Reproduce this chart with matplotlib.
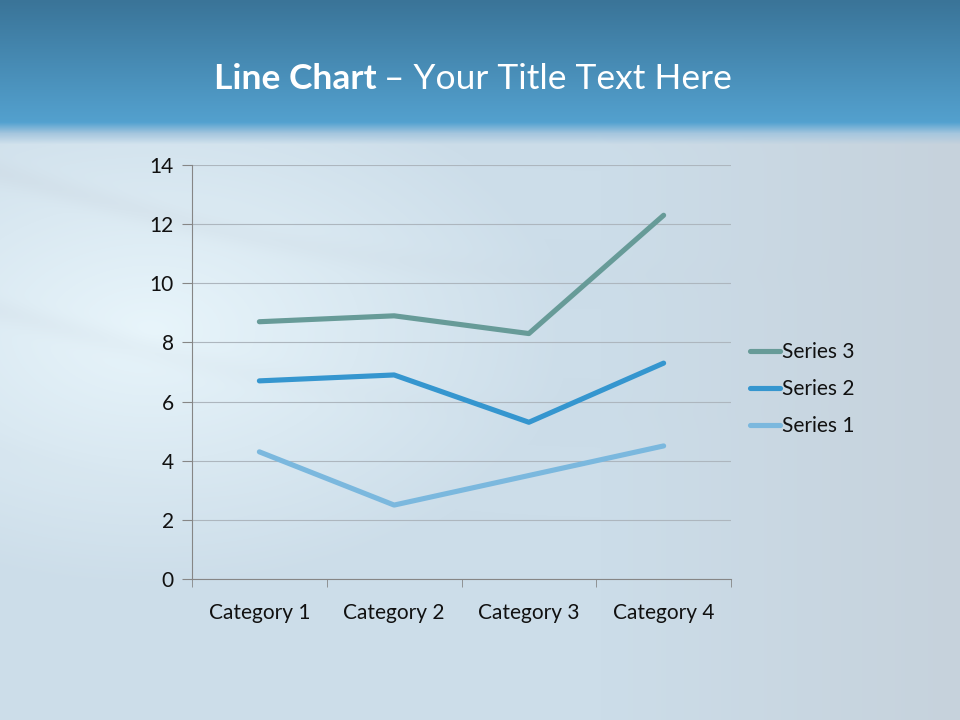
import numpy as np
import matplotlib.pyplot as plt

# data (stacked line chart)
categories = ["Category 1", "Category 2", "Category 3", "Category 4"]
series_names = ["Series 1", "Series 2", "Series 3"]
series1 = [4.3, 2.5, 3.5, 4.5]
series2 = [2.4, 4.4, 1.8, 2.8]
series3 = [2.0, 2.0, 3.0, 5.0]
colors = ["#7bb8de", "#3596cf", "#679b98"]

plt.rcParams['font.family'] = ['Lato', 'DejaVu Sans']

fig = plt.figure(figsize=(9.6, 7.2), dpi=100)

# background: slide-like gradient
H, W = 720, 960
yy, xx = np.mgrid[0:H, 0:W].astype(float)
top0 = np.array([58, 116, 152]) / 255
top1 = np.array([84, 162, 208]) / 255
t = np.clip(yy / 125.0, 0, 1)[..., None]
band = top0 * (1 - t) + top1 * t
low_base = np.array([204, 221, 233]) / 255
light = np.array([232, 245, 251]) / 255
grey = np.array([198, 210, 220]) / 255
# light glow on left-middle, grey towards right
d = np.sqrt(((xx - 150) / 420) ** 2 + ((yy - 330) / 260) ** 2)
g = np.clip(1 - d, 0, 1)[..., None]
r = np.clip((xx - 600) / 360, 0, 1)[..., None]
low = low_base * (1 - r) + grey * r
low = low * (1 - g) + light * g
# soft wavy streaks
wave = np.sin((yy - 40 * np.sin(xx / 260.0) - 0.12 * xx) / 22.0)
streak = (np.clip(wave, 0, 1) ** 6) * np.clip(1 - xx / 900, 0, 1) * np.clip((520 - yy) / 300, 0, 1)
low = low * (1 - 0.25 * streak[..., None]) + 0.25 * streak[..., None] * np.array([0.78, 0.82, 0.86])
s = np.clip((yy - 122) / 22.0, 0, 1)[..., None]
mid = np.array([165, 198, 222]) / 255
trans = np.where(s < 0.5, top1 * (1 - 2 * s) + mid * 2 * s, mid * (2 - 2 * s) + low * (2 * s - 1))
img = np.where(yy[..., None] < 122, band, trans)
bg = fig.add_axes([0, 0, 1, 1], zorder=-10)
bg.imshow(np.clip(img, 0, 1), aspect='auto', extent=(0, 1, 0, 1))
bg.axis('off')

# title
fig.text(377 / 960, 1 - 79 / 720, "Line Chart", color='white', fontsize=25.5,
         fontweight='bold', ha='right', va='center')
fig.text(384 / 960, 1 - 79 / 720, "\u2013 Your Title Text Here", color='white',
         fontsize=25.5, ha='left', va='center')

ax = fig.add_axes([192 / 960, 1 - 579 / 720, (731 - 192) / 960, (579 - 165) / 720])
ax.patch.set_alpha(0)

x = np.arange(len(categories))
stacked = np.cumsum([series1, series2, series3], axis=0)
lines = []
for name, vals, c in zip(series_names, stacked, colors):
    ln, = ax.plot(x, vals, color=c, linewidth=3.7, solid_capstyle='round', label=name)
    lines.append(ln)

ax.set_xlim(-0.5, 3.5)
ax.set_ylim(0, 14)
ax.set_yticks(range(0, 15, 2))
ax.set_xticks(x)
ax.set_xticklabels(categories)
ax.set_xticks(np.arange(-0.5, 4, 1), minor=True)
ax.tick_params(axis='x', which='major', length=0, pad=17.5, labelsize=15, labelcolor='#111111')
ax.tick_params(axis='x', which='minor', length=6, color='#868686')
ax.tick_params(axis='y', length=7, color='#868686', pad=6, labelsize=15, labelcolor='#111111')
ax.grid(axis='y', color='#adb6be', linewidth=0.8)
ax.set_axisbelow(True)
for sp in ['top', 'right']:
    ax.spines[sp].set_visible(False)
for sp in ['left', 'bottom']:
    ax.spines[sp].set_color('#868686')

leg = ax.legend(lines[::-1], series_names[::-1], loc='center left', bbox_to_anchor=(1.035, 0.459),
                frameon=False, fontsize=15, handlelength=1.45, handletextpad=0.1,
                labelspacing=0.82, borderpad=0, borderaxespad=0)
for txt in leg.get_texts():
    txt.set_color('#111111')

fig.savefig("out.png", dpi=100)
